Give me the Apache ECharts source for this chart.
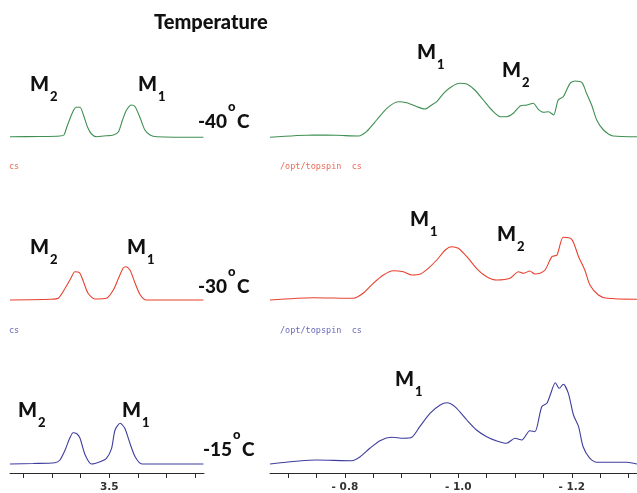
<!DOCTYPE html>
<html><head><meta charset="utf-8">
<script src="https://cdn.jsdelivr.net/npm/echarts@6/dist/echarts.min.js"></script>
<style>html,body{margin:0;padding:0;background:#fff}#c{width:637px;height:493px}</style>
</head><body><div id="c"></div>
<script>
// ---- data (ppm, intensity in arbitrary units) ----
// -40 C (green), left region
const ppmL40 = [3.673,3.621,3.586,3.579,3.574,3.566,3.562,3.558,3.551,3.545,3.538,3.531,3.522,3.510,3.493,3.484,3.477,3.470,3.461,3.455,3.446,3.438,3.429,3.417,3.336];
const intL40 = [1.3,1.5,2,3,11,23,28,30.7,30.7,23,11,4,1.3,2,3,6.3,18,28,33,31.3,19.7,8,3,1.3,0.7];
// -40 C (green), right region
const ppmR40 = [-0.668,-0.744,-0.786,-0.824,-0.838,-0.856,-0.874,-0.894,-0.909,-0.927,-0.941,-0.953,-0.962,-0.974,-0.988,-1.003,-1.015,-1.029,-1.044,-1.059,-1.074,-1.085,-1.097,-1.109,-1.121,-1.132,-1.141,-1.150,-1.159,-1.168,-1.176,-1.185,-1.197,-1.206,-1.218,-1.226,-1.235,-1.244,-1.256,-1.273,-1.315];
const intR40 = [0.7,3,2.7,2,6.3,18,29.7,36.3,35.3,31.3,29,33,36.3,44.7,51.3,54.7,54,48,38,28,21.3,21.3,24.7,32,33,34.7,28.7,25.7,26.3,23,38,41.3,54.7,57,55.3,44.7,33,18,8,2,1.3];
// -30 C (red), left region
const ppmL30 = [3.673,3.603,3.589,3.577,3.567,3.560,3.552,3.545,3.537,3.525,3.505,3.493,3.484,3.476,3.471,3.464,3.455,3.446,3.435,3.336];
const intL30 = [0,0.7,1.7,11.7,21.7,28.3,27.3,18.3,6.7,1,1.7,10,21.7,31.7,33.3,30,16.7,5,0,0];
// -30 C (red), right region
const ppmR30 = [-0.668,-0.744,-0.815,-0.832,-0.850,-0.868,-0.885,-0.903,-0.918,-0.932,-0.947,-0.962,-0.977,-0.988,-1.000,-1.015,-1.032,-1.050,-1.068,-1.091,-1.106,-1.115,-1.126,-1.135,-1.144,-1.153,-1.165,-1.174,-1.185,-1.200,-1.212,-1.223,-1.232,-1.247,-1.262,-1.315];
const intR30 = [0,2.3,1.7,6.7,16.7,25,29.3,28.3,25,25.7,31.7,40,50,53.3,51.7,43.3,31.7,23.3,20,21.7,28.3,26.7,29,26,26.7,30,43.3,45,62.7,60.7,43.3,30,15,5,1.7,0.7];
// -15 C (blue), left region
const ppmL15 = [3.673,3.633,3.595,3.586,3.577,3.569,3.563,3.556,3.551,3.542,3.531,3.516,3.505,3.496,3.490,3.481,3.473,3.464,3.455,3.443,3.336];
const intL15 = [0,0.5,1.3,4,14,25.7,31.3,30,25.7,9,0,2.3,5.7,15.7,34,40.7,35.7,20.7,7.3,0,0];
// -15 C (blue), right region
const ppmR15 = [-0.668,-0.750,-0.812,-0.827,-0.844,-0.862,-0.883,-0.903,-0.918,-0.932,-0.950,-0.968,-0.980,-0.994,-1.015,-1.032,-1.050,-1.068,-1.085,-1.100,-1.112,-1.126,-1.135,-1.147,-1.156,-1.162,-1.171,-1.178,-1.185,-1.194,-1.203,-1.212,-1.220,-1.232,-1.244,-1.297,-1.315];
const intR15 = [0,4,3.3,7.3,15.7,23.3,26.7,25.7,26.7,37.3,50.7,59,61.3,57.3,44,34,27.3,23,20.7,25.7,24,33.3,32.3,57.3,60.7,69,81.3,75.7,79.7,70.7,49,37.3,17.3,5.7,1.7,1.7,0];

// axis ranges and ticks
const leftRange = [3.335, 3.673];
const rightRange = [-1.315, -0.668];
const leftTicks = [3.65,3.60,3.55,3.50,3.45,3.40,3.35];
const leftTickLabels = [3.5];
const rightTicks = [-0.70,-0.75,-0.80,-0.85,-0.90,-0.95,-1.00,-1.05,-1.10,-1.15,-1.20,-1.25,-1.30];
const rightTickLabels = [-0.8,-1.0,-1.2];
const temps = ['-40','-30','-15'];
const colors = ['#3f8f52','#e8412f','#3d3d9e'];

const zip = (a,b) => a.map((v,i)=>[v,b[i]]);
const spectra = [
  [zip(ppmL40,intL40), zip(ppmR40,intR40)],
  [zip(ppmL30,intL30), zip(ppmR30,intR30)],
  [zip(ppmL15,intL15), zip(ppmR15,intR15)]
];

const rowTops = [47, 209, 373];
const grids = [], xAxes = [], yAxes = [], series = [];
const fmt = v => v < 0 ? '- ' + Math.abs(v).toFixed(1) : v.toFixed(1);
for (let r = 0; r < 3; r++) {
  for (let c = 0; c < 2; c++) {
    const idx = grids.length;
    const bottomRow = r === 2;
    grids.push(c === 0 ? {left: 10, width: 194, top: rowTops[r], height: 100}
                       : {left: 270, width: 367, top: rowTops[r], height: 100});
    const range = c === 0 ? leftRange : rightRange;
    xAxes.push({
      gridIndex: idx, type: 'value', inverse: true, min: range[0], max: range[1],
      splitLine: {show: false},
      axisLine: {show: bottomRow, onZero: false, lineStyle: {color: '#2a2a2a', width: 1}},
      axisTick: {show: bottomRow, inside: false, length: 5, lineStyle: {color: '#2a2a2a'},
                 customValues: c === 0 ? leftTicks : rightTicks},
      axisLabel: {show: bottomRow, margin: 9, color: '#333', fontSize: 10.5, fontWeight: 'bold',
                  fontFamily: 'DejaVu Sans', formatter: fmt,
                  customValues: c === 0 ? leftTickLabels : rightTickLabels}
    });
    yAxes.push({gridIndex: idx, type: 'value', min: -9, max: 91, show: false});
    series.push({
      type: 'line', xAxisIndex: idx, yAxisIndex: idx, data: spectra[r][c],
      showSymbol: false, smooth: 0.25, animation: false,
      lineStyle: {color: colors[r], width: 1.1}
    });
  }
}

const g = [];
const t = (x, y, text, font, fill) => g.push({type: 'text', x: x, y: y,
  style: {text: text, font: font, fill: fill || '#111', textAlign: 'left', textVerticalAlign: 'middle'}});
const MF = '900 20px Lato', SF = '900 13px Lato', TF = '900 19px Lato';
t(154, 23, 'Temperature', '900 20px Lato');
// M labels
const mLab = (x, y, n) => { t(x, y, 'M', MF); t(x + 20, y + 12, n, SF); };
mLab(30, 85, '2'); mLab(138, 85, '1');
mLab(417, 53, '1'); mLab(502, 71, '2');
mLab(30, 248, '2'); mLab(127, 248, '1');
mLab(410, 220, '1'); mLab(497, 235, '2');
mLab(18, 411, '2'); mLab(122, 411, '1');
mLab(395, 380, '1');
// temperatures
const tLab = (x, y, s) => { t(x, y, s, TF); t(x + 30, y - 15, 'o', '900 13px Lato'); t(x + 39, y, 'C', TF); };
tLab(198, 122, temps[0]); tLab(198, 287, temps[1]); tLab(203, 450, temps[2]);
// topspin stamps
t(9, 167, 'cs', '8.5px "DejaVu Sans Mono"', '#ec6a5a');
t(280, 167, '/opt/topspin  cs', '8.5px "DejaVu Sans Mono"', '#ec6a5a');
t(9, 331, 'cs', '8.5px "DejaVu Sans Mono"', '#6a6ab8');
t(280, 331, '/opt/topspin  cs', '8.5px "DejaVu Sans Mono"', '#6a6ab8');

const chart = echarts.init(document.getElementById('c'), null, {renderer: 'canvas'});
chart.setOption({animation: false, grid: grids, xAxis: xAxes, yAxis: yAxes, series: series, graphic: g});
</script></body></html>
